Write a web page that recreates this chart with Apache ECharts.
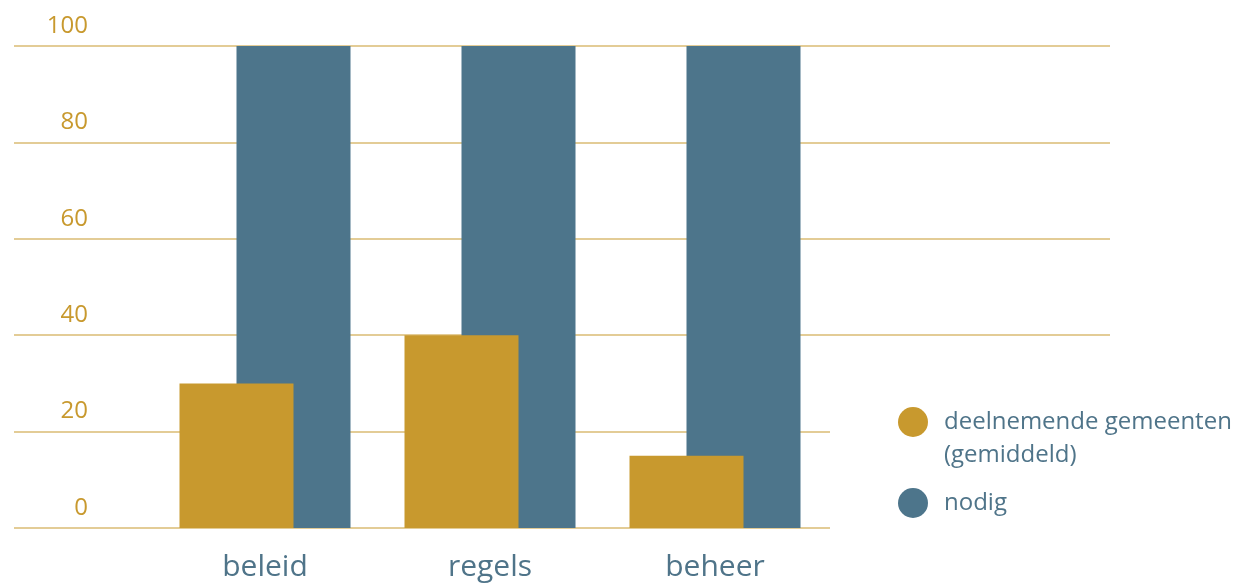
<!DOCTYPE html>
<html>
<head>
<meta charset="utf-8">
<script src="https://cdn.jsdelivr.net/npm/echarts@6/dist/echarts.min.js"></script>
<style>html,body{margin:0;padding:0;background:#fff}#c{width:1250px;height:584px}</style>
</head>
<body>
<div id="c"></div>
<script>
const categories = ['beleid', 'regels', 'beheer'];
const seriesNames = ['deelnemende gemeenten\n(gemiddeld)', 'nodig'];
const gemeenten = [30, 40, 15];
const nodig = [100, 100, 100];
const yTicks = [0, 20, 40, 60, 80, 100];

const GOLD = '#C8992E', BLUE = '#4D758B', TEXT = '#4F7489', GRID = '#E3CC96';
const FONT = '"Open Sans", sans-serif';

const chart = echarts.init(document.getElementById('c'));
chart.setOption({
  animation: false,
  grid: [
    {left: 14, right: 140, top: 46, bottom: 56},
    {left: 152.5, right: 422.5, top: 46, bottom: 56}
  ],
  xAxis: [
    {gridIndex: 0, type: 'value', show: false},
    {gridIndex: 1, type: 'category', data: categories, boundaryGap: true,
     axisLine: {show: false}, axisTick: {show: false},
     axisLabel: {color: TEXT, fontSize: 30, fontFamily: FONT, margin: 24}}
  ],
  yAxis: [
    {gridIndex: 0, type: 'value', min: yTicks[0], max: yTicks[yTicks.length - 1], interval: 20,
     axisLine: {show: false}, axisTick: {show: false},
     splitLine: {show: true, lineStyle: {color: GRID, width: 2}},
     axisLabel: {inside: true, margin: 74, align: 'right', verticalAlign: 'middle',
       lineHeight: 40, formatter: function (v) { return v + '\n'; },
       color: GOLD, fontSize: 24, fontFamily: FONT}},
    {gridIndex: 1, type: 'value', min: 0, max: 100, show: false}
  ],
  legend: {
    orient: 'vertical', left: 830, top: 343,
    padding: [26.5, 20, 20, 68], backgroundColor: '#fff',
    itemWidth: 30, itemHeight: 30, itemGap: 9, selectedMode: false,
    icon: 'circle',
    data: seriesNames,
    formatter: function (n) { return n.indexOf('\n') >= 0 ? '\n' + n : n; },
    textStyle: {color: TEXT, fontSize: 24, fontFamily: FONT, lineHeight: 33, padding: [6, 0, 0, 11]}
  },
  series: [
    {name: seriesNames[0], type: 'bar', xAxisIndex: 1, yAxisIndex: 1, data: gemeenten,
     barWidth: 114, barGap: '-50%', z: 3, itemStyle: {color: GOLD}},
    {name: seriesNames[1], type: 'bar', xAxisIndex: 1, yAxisIndex: 1, data: nodig,
     barWidth: 114, barGap: '-50%', z: 2, itemStyle: {color: BLUE}}
  ]
});
</script>
</body>
</html>
